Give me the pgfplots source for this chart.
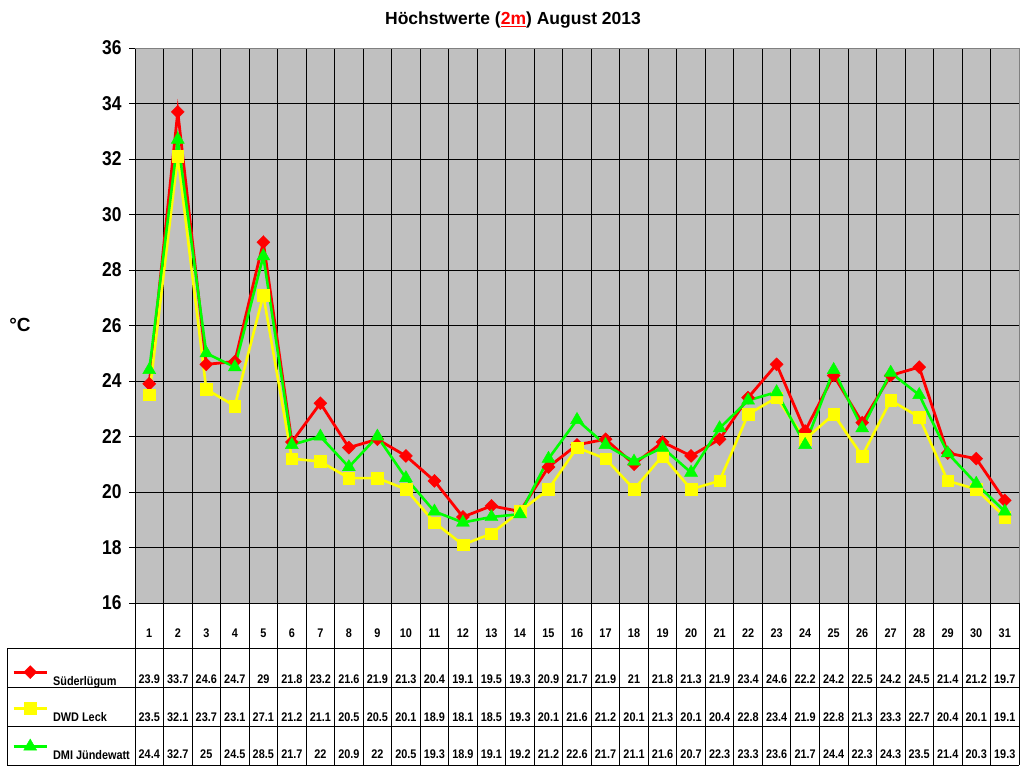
\documentclass[border=0pt]{standalone}
\usepackage{fontspec}
\setmainfont{Liberation Sans}
\newfontfamily\nar{Liberation Sans}[FakeStretch=0.87]
\usepackage{pgfplots}
\usepackage{pgfplotstable}
\pgfplotsset{compat=1.18}

\definecolor{plotbg}{RGB}{192,192,192}
\definecolor{sred}{RGB}{255,0,0}
\definecolor{lyel}{RGB}{255,255,0}
\definecolor{dgrn}{RGB}{0,255,0}

% Tageshoechstwerte August 2013
\pgfplotstableread{
d  s     l     g
1  23.9  23.5  24.4
2  33.7  32.1  32.7
3  24.6  23.7  25
4  24.7  23.1  24.5
5  29    27.1  28.5
6  21.8  21.2  21.7
7  23.2  21.1  22
8  21.6  20.5  20.9
9  21.9  20.5  22
10 21.3  20.1  20.5
11 20.4  18.9  19.3
12 19.1  18.1  18.9
13 19.5  18.5  19.1
14 19.3  19.3  19.2
15 20.9  20.1  21.2
16 21.7  21.6  22.6
17 21.9  21.2  21.7
18 21    20.1  21.1
19 21.8  21.3  21.6
20 21.3  20.1  20.7
21 21.9  20.4  22.3
22 23.4  22.8  23.3
23 24.6  23.4  23.6
24 22.2  21.9  21.7
25 24.2  22.8  24.4
26 22.5  21.3  22.3
27 24.2  23.3  24.3
28 24.5  22.7  23.5
29 21.4  20.4  21.4
30 21.2  20.1  20.3
31 19.7  19.1  19.3
}\data

\begin{document}
\begin{tikzpicture}
\fill[white] (0,0) rectangle (1024pt,768pt);
\path[use as bounding box] (0,0) rectangle (1024pt,768pt);

\begin{axis}[
    at={(135pt,165pt)}, anchor=south west,
    scale only axis,
    width=884pt, height=555pt,
    xmin=0.5, xmax=31.5,
    ymin=16, ymax=36,
    clip=false,
    axis background/.style={fill=plotbg},
    separate axis lines,
    x axis line style={draw=none},
    y axis line style={black, line width=0.8pt},
    xtick={1,...,31},
    xtick style={draw=none},
    minor xtick={1.5,...,30.5},
    xminorgrids=true,
    minor x grid style={black, line width=0.8pt},
    minor tick length=0pt,
    ytick={16,18,...,36},
    ytick pos=left,
    ytick align=outside,
    major tick length=6pt,
    ytick style={black, line width=0.8pt},
    ymajorgrids=true,
    major y grid style={black, line width=0.8pt},
    /pgf/number format/assume math mode=true,
    yticklabel style={font=\fontsize{20}{22}\selectfont\nar\bfseries, xshift=-4pt},
    xticklabel style={font=\fontsize{12.5}{14}\selectfont\nar\bfseries, anchor=center, yshift=-30pt},
    legend style={at={(axis description cs:-0.139,-0.1125)}, anchor=north west,
        draw=none, fill=none, inner sep=0pt, row sep=14.5pt,
        font=\fontsize{12.5}{14}\selectfont\nar\bfseries,
        nodes={inner sep=0pt, text height=9pt, text depth=3pt}},
    legend cell align=left,
    legend image code/.code={
        \draw[#1, mark repeat=2, mark phase=2, yshift=10pt]
            plot coordinates {(0pt,0pt) (16.5pt,0pt) (33pt,0pt)};
        \path (38pt,0pt);
    },
    nodes near coords style={font=\fontsize{12.5}{14}\selectfont\nar\bfseries, anchor=center, black},
]
\addplot[sred, line width=2.8pt, mark=square*, mark size=4.6pt,
    mark options={solid, rotate=45, line width=0.4pt}] table[x=d, y=s] {\data};
\addlegendentry{Süderlügum}
\addplot[lyel, line width=2.6pt, mark=square*, mark size=5.8pt,
    mark options={solid, line width=0.4pt}] table[x=d, y=l] {\data};
\addlegendentry{DWD Leck}
\addplot[dgrn, line width=2.6pt, mark=triangle*, mark size=7.5pt,
    mark options={solid, line width=0.4pt}] table[x=d, y=g] {\data};
\addlegendentry{DMI Jündewatt}

% Datentabelle unter dem Diagramm
\addplot[draw=none, forget plot, point meta=explicit, nodes near coords]
    table[x=d, y expr=13.26, meta=s] {\data};
\addplot[draw=none, forget plot, point meta=explicit, nodes near coords]
    table[x=d, y expr=11.89, meta=l] {\data};
\addplot[draw=none, forget plot, point meta=explicit, nodes near coords]
    table[x=d, y expr=10.56, meta=g] {\data};
\end{axis}

% Rahmen und Linien
\draw[gray, line width=0.8pt] (135pt,720pt) -- (1019pt,720pt) -- (1019pt,165pt);
\draw[black, line width=0.8pt] (129pt,165pt) -- (1019pt,165pt);
\foreach \k in {0,...,31}
    \draw[black, line width=0.8pt] ({(135+28.516*\k)*1pt},165pt) -- ({(135+28.516*\k)*1pt},3pt);
\foreach \yy in {120,81,42,3}
    \draw[black, line width=0.8pt] (7pt,\yy pt) -- (1019pt,\yy pt);
\draw[black, line width=0.8pt] (7pt,120pt) -- (7pt,3pt);

\node[font=\fontsize{17.5}{20}\selectfont\bfseries] at (513pt,748pt)
    {Höchstwerte ({\color{red}\underline{2m}}) August 2013};
\node[font=\fontsize{19}{22}\selectfont\bfseries] at (20pt,443pt) {°C};
\end{tikzpicture}
\end{document}
